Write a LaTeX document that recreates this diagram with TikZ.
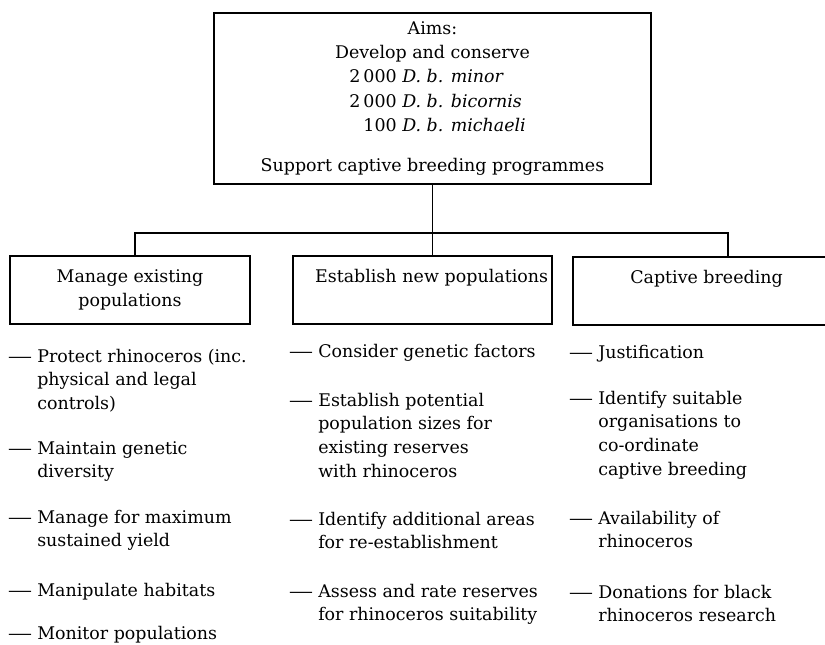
\documentclass[tikz,border=0pt]{standalone}
\usepackage{fontspec}
\usepackage{graphicx}
\setmainfont{DejaVu Serif}
\newcommand{\itemdash}{\llap{\scalebox{1.4}[1]{---}\hspace{0.125cm}}}
\newcommand{\spline}[2]{\makebox[10.5em][l]{\makebox[3.2em][r]{#1} \textit{#2}}}
\tikzset{
	box/.style={draw, line width=1.4pt, rectangle, inner sep=3pt, align=center, minimum height=1.7cm},
	item/.style={anchor=base west, align=left, inner sep=0pt},
	link/.style={line width=1.1pt},
}
\begin{document}
\begin{tikzpicture}[x=0.025cm, y=-0.025cm, font=\fontsize{12.4}{16.9}\selectfont]
	\useasboundingbox (0,0) rectangle (825,645);
	\clip (0,0) rectangle (825,645);
	%目标框
	\node [box, minimum width=10.925cm, minimum height=4.275cm, font=\fontsize{12.4}{17.4}\selectfont] (aims) at (432.5,98.5)
		{Aims:\\Develop and conserve\\\spline{2\,000}{D. b. minor}\\\spline{2\,000}{D. b. bicornis}\\\spline{100}{D. b. michaeli}\\[0.39cm]Support captive breeding programmes};
	%三个分支框
	\node [box, minimum width=6cm] (manage) at (130,290) {Manage existing\\populations};
	\node [box, minimum width=6.475cm, text width=6.275cm, align=right] (establish) at (422.5,290) {Establish new populations\\\vphantom{lp}};
	\node [box, minimum width=6.675cm] (captive) at (706.5,291) {Captive breeding\\\vphantom{lp}};
	%连接线
	\coordinate (lt) at (135,233);
	\coordinate (rt) at (728,233);
	\draw [link] (aims.south) -- (aims.south |- establish.north);
	\draw [link] (lt |- manage.north) -- (lt) -- (rt) -- (rt |- captive.north);
	%第一列条目（y 为末行基线）
	\foreach \y/\txt [count=\i] in {409.6/{Protect rhinoceros (inc.\\physical and legal\\controls)},
			477.8/{Maintain genetic\\diversity}, 546.8/{Manage for maximum\\sustained yield},
			596/{Manipulate habitats}, 639/{Monitor populations}}
		\node [item] (m\i) at (37,\y) {\itemdash\txt};
	%第二列条目
	\foreach \y/\txt [count=\i] in {357/{Consider genetic factors},
			477.4/{Establish potential\\population sizes for\\existing reserves\\with rhinoceros},
			548.8/{Identify additional areas\\for re-establishment},
			620.8/{Assess and rate reserves\\for rhinoceros suitability}}
		\node [item] (e\i) at (318,\y) {\itemdash\txt};
	%第三列条目
	\foreach \y/\txt [count=\i] in {358/{Justification},
			475.4/{Identify suitable\\organisations to\\co-ordinate\\captive breeding},
			547.8/{Availability of\\rhinoceros}, 621.8/{Donations for black\\rhinoceros research}}
		\node [item] (c\i) at (598,\y) {\itemdash\txt};
\end{tikzpicture}
\end{document}
